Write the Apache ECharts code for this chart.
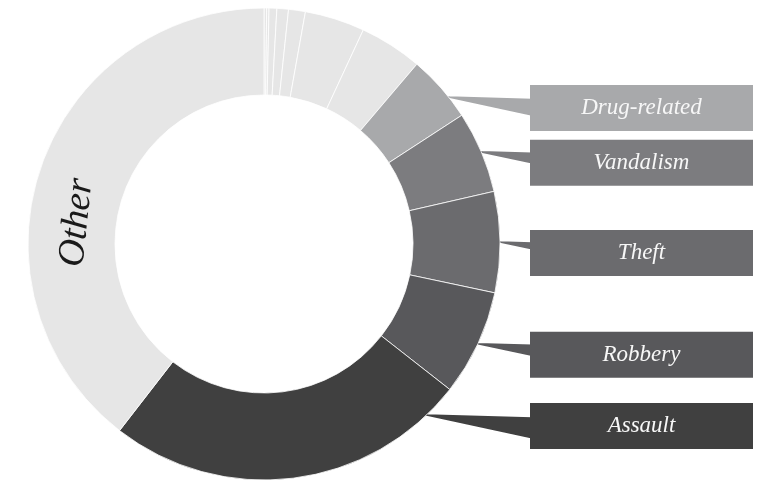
<!DOCTYPE html>
<html>
<head>
<meta charset="utf-8">
<script src="https://cdn.jsdelivr.net/npm/echarts@6/dist/echarts.min.js"></script>
<style>html,body{margin:0;padding:0;background:#fff}#chart{width:769px;height:480px}</style>
</head>
<body>
<div id="chart"></div>
<script>
// ---- data ----
const categories = ['Homicide', 'Kidnapping', 'Arson', 'Weapons', 'Fraud', 'Burglary', 'Trespassing',
  'Drug-related', 'Vandalism', 'Theft', 'Robbery', 'Assault', 'Other'];
const values = [0.18, 0.16, 0.53, 0.79, 1.15, 4.1, 4.3, 4.6, 5.6, 6.9, 7.25, 24.9, 39.5];
const boxedLabels = ['Drug-related', 'Vandalism', 'Theft', 'Robbery', 'Assault'];
const insideLabels = ['Other'];

// ---- styles ----
const colors = ['#e6e6e6', '#e6e6e6', '#e6e6e6', '#e6e6e6', '#e6e6e6', '#e6e6e6', '#e6e6e6',
  '#a8a9ab', '#7c7c7f', '#6b6b6e', '#58585b', '#404040', '#e6e6e6'];
const FONT = "'Liberation Serif', 'DejaVu Serif', serif";
const CX = 264, CY = 244, R0 = 149, R = 236;
const BOX_W = 223, BOX_H = 46, RIGHT_MARGIN = 16;
const BOX_TOP_MIN = 108, BOX_BOTTOM_MARGIN = 54, APEX_OFFSET = 11;
const OTHER_ANGLE = 276.5, OTHER_RADIUS_FRAC = 0.45;

const chart = echarts.init(document.getElementById('chart'), null, { renderer: 'canvas' });
const W = chart.getWidth(), H = chart.getHeight();
const boxLeft = W - RIGHT_MARGIN - BOX_W;
const boxCX = boxLeft + BOX_W / 2;

const seriesData = categories.map((name, i) => {
  const boxed = boxedLabels.includes(name);
  const inside = insideLabels.includes(name);
  let label = { show: false };
  if (boxed) {
    label = {
      show: true, position: 'outside', formatter: '{b}',
      color: '#f7f7f7', backgroundColor: colors[i],
      width: BOX_W, height: BOX_H, lineHeight: BOX_H,
      align: 'center', verticalAlign: 'middle',
      fontFamily: FONT, fontStyle: 'italic', fontSize: 23
    };
  } else if (inside) {
    label = {
      show: true, position: 'inside', formatter: '{b}', rotate: 84,
      color: '#1a1a1a', fontFamily: FONT, fontStyle: 'italic', fontSize: 38
    };
  }
  return {
    name: name,
    value: values[i],
    itemStyle: { color: colors[i] },
    label: label,
    labelLine: boxed
      ? { show: true, length: 10, length2: 10, lineStyle: { color: colors[i], width: 1.6, join: 'round', cap: 'round' } }
      : { show: false }
  };
});

chart.setOption({
  animation: false,
  backgroundColor: '#ffffff',
  series: [{
    type: 'pie',
    center: [CX, CY],
    radius: [R0, R],
    startAngle: 90,
    clockwise: true,
    avoidLabelOverlap: false,
    emphasis: { disabled: true },
    itemStyle: { borderColor: '#ffffff', borderWidth: 0.8 },
    data: seriesData,
    labelLayout: function (p) {
      const name = categories[p.dataIndex];
      if (insideLabels.includes(name)) {
        const a = OTHER_ANGLE * Math.PI / 180;
        const rm = R0 + (R - R0) * OTHER_RADIUS_FRAC;
        return { x: CX + rm * Math.sin(a), y: CY - rm * Math.cos(a), align: 'center', verticalAlign: 'middle' };
      }
      if (!boxedLabels.includes(name) || !p.labelLinePoints) return {};
      const midY = p.labelLinePoints[0][1];
      const boxY = Math.min(Math.max(midY + APEX_OFFSET, BOX_TOP_MIN), H - BOX_BOTTOM_MARGIN);
      const ay = boxY - APEX_OFFSET;
      const ax = CX + Math.sqrt(Math.max(R * R - (ay - CY) * (ay - CY), 0));
      const d = boxLeft - ax;
      const t = ay + 0.03 * d, b = ay + 0.22 * d;
      const n = Math.max(2, Math.ceil((b - t) / 1.2));
      const pts = [];
      for (let k = 0; k <= n; k++) {
        pts.push([ax, ay]);
        pts.push([boxLeft + 2, t + (b - t) * k / n]);
      }
      return { x: boxCX, y: boxY, align: 'center', verticalAlign: 'middle', labelLinePoints: pts };
    }
  }]
});
</script>
</body>
</html>
